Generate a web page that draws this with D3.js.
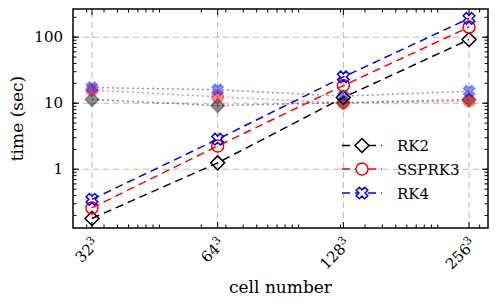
<!DOCTYPE html>
<html>
<head>
<meta charset="utf-8">
<script src="https://cdn.jsdelivr.net/npm/d3@7"></script>
<style>
  body { margin: 0; background: #fff; }
  text { font-family: "DejaVu Serif", serif; }
</style>
</head>
<body>
<div id="container"></div>
<script>
// data
var sides = [32, 64, 128, 256];
var cells = sides.map(d => d * d * d);

var seriesNames = ["RK2", "SSPRK3", "RK4"];
var seriesColors = ["#000000", "#ff0000", "#0000ff"];
var seriesMarkers = ["diamond", "circle", "cross"];

// dashed lines, open markers
var rk2 = [0.18, 1.25, 12.2, 92];
var ssprk3 = [0.26, 2.25, 18.5, 142];
var rk4 = [0.35, 2.85, 25, 192];

// dotted lines, faint filled markers
var rk2Dot = [11.4, 9.2, 10.2, 11.4];
var ssprk3Dot = [15.8, 12.5, 10.1, 10.8];
var rk4Dot = [17.3, 16.0, 12.8, 15.2];

var yTickValues = [1, 10, 100];

var width = 498;
var height = 307;
var margin = { top: 9, right: 10, bottom: 79, left: 73 };

var svg = d3
  .select("#container")
  .append("svg")
  .attr("width", width)
  .attr("height", height);

var pad = Math.pow(8, 0.151);
var x = d3
  .scaleLog()
  .domain([cells[0] / pad, cells[3] * pad])
  .range([margin.left, width - margin.right]);

var y = d3
  .scaleLog()
  .domain([0.129, 267])
  .range([height - margin.bottom, margin.top]);

var x0 = margin.left, x1 = width - margin.right;
var y0 = height - margin.bottom, y1 = margin.top;

// grid
svg.append("g")
  .selectAll("line")
  .data(cells)
  .enter()
  .append("line")
  .attr("x1", d => x(d)).attr("x2", d => x(d))
  .attr("y1", y0).attr("y2", y1)
  .attr("stroke", "#b8b8b8")
  .attr("stroke-width", 1)
  .attr("stroke-dasharray", "6,4");

svg.append("g")
  .selectAll("line")
  .data(yTickValues)
  .enter()
  .append("line")
  .attr("y1", d => y(d)).attr("y2", d => y(d))
  .attr("x1", x0).attr("x2", x1)
  .attr("stroke", "#b8b8b8")
  .attr("stroke-width", 1)
  .attr("stroke-dasharray", "6,4");

// ticks, inward on all sides
var ticks = svg.append("g").attr("stroke", "#000").attr("stroke-width", 1);
var xMinor = x.ticks();
var yMinor = y.ticks();

xMinor.forEach(function(d) {
  ticks.append("line").attr("x1", x(d)).attr("x2", x(d)).attr("y1", y0).attr("y2", y0 - 3.5);
  ticks.append("line").attr("x1", x(d)).attr("x2", x(d)).attr("y1", y1).attr("y2", y1 + 3.5);
});
cells.forEach(function(d) {
  ticks.append("line").attr("x1", x(d)).attr("x2", x(d)).attr("y1", y0).attr("y2", y0 - 6);
  ticks.append("line").attr("x1", x(d)).attr("x2", x(d)).attr("y1", y1).attr("y2", y1 + 6);
});
yMinor.forEach(function(d) {
  ticks.append("line").attr("y1", y(d)).attr("y2", y(d)).attr("x1", x0).attr("x2", x0 + 3.5);
  ticks.append("line").attr("y1", y(d)).attr("y2", y(d)).attr("x1", x1).attr("x2", x1 - 3.5);
});
yTickValues.forEach(function(d) {
  ticks.append("line").attr("y1", y(d)).attr("y2", y(d)).attr("x1", x0).attr("x2", x0 + 6);
  ticks.append("line").attr("y1", y(d)).attr("y2", y(d)).attr("x1", x1).attr("x2", x1 - 6);
});

// marker shapes
function markerPath(type) {
  if (type === "diamond") {
    var r = 7;
    return "M0," + (-r) + "L" + r + ",0L0," + r + "L" + (-r) + ",0Z";
  }
  if (type === "circle") {
    var c = 6;
    return "M" + c + ",0A" + c + "," + c + " 0 1,1 " + (-c) + ",0A" + c + "," + c + " 0 1,1 " + c + ",0Z";
  }
  var r2 = 6, h = 2.2;
  var pts = [[-h,-r2],[h,-r2],[h,-h],[r2,-h],[r2,h],[h,h],[h,r2],[-h,r2],[-h,h],[-r2,h],[-r2,-h],[-h,-h]];
  var a = Math.PI / 4;
  pts = pts.map(p => [p[0] * Math.cos(a) - p[1] * Math.sin(a), p[0] * Math.sin(a) + p[1] * Math.cos(a)]);
  return "M" + pts.map(p => p[0].toFixed(2) + "," + p[1].toFixed(2)).join("L") + "Z";
}

var line = d3.line().x((d, i) => x(cells[i])).y(d => y(d));

var plot = svg.append("g");

// dotted faint series
[rk2Dot, ssprk3Dot, rk4Dot].forEach(function(vals, k) {
  var col = seriesColors[k];
  plot.append("path")
    .attr("d", line(vals))
    .attr("fill", "none")
    .attr("stroke", col)
    .attr("stroke-opacity", 0.45)
    .attr("stroke-width", 1.5)
    .attr("stroke-dasharray", "2,3");
  plot.selectAll(null)
    .data(vals)
    .enter()
    .append("path")
    .attr("transform", (d, i) => "translate(" + x(cells[i]) + "," + y(d) + ")")
    .attr("d", markerPath(seriesMarkers[k]))
    .attr("fill", col)
    .attr("fill-opacity", 0.45)
    .attr("stroke", col)
    .attr("stroke-opacity", 0.3)
    .attr("stroke-width", 1.5);
});

// dashed series
[rk2, ssprk3, rk4].forEach(function(vals, k) {
  var col = seriesColors[k];
  plot.append("path")
    .attr("d", line(vals))
    .attr("fill", "none")
    .attr("stroke", col)
    .attr("stroke-width", 1.5)
    .attr("stroke-dasharray", "8,5");
  plot.selectAll(null)
    .data(vals)
    .enter()
    .append("path")
    .attr("transform", (d, i) => "translate(" + x(cells[i]) + "," + y(d) + ")")
    .attr("d", markerPath(seriesMarkers[k]))
    .attr("fill", "none")
    .attr("stroke", col)
    .attr("stroke-width", 1.5);
});

// frame
svg.append("rect")
  .attr("x", x0).attr("y", y1)
  .attr("width", x1 - x0).attr("height", y0 - y1)
  .attr("fill", "none")
  .attr("stroke", "#000")
  .attr("stroke-width", 1.5);

// y tick labels
svg.append("g")
  .selectAll("text")
  .data(yTickValues)
  .enter()
  .append("text")
  .attr("x", x0 - 10)
  .attr("y", d => y(d) + 5)
  .attr("text-anchor", "end")
  .style("font-size", "15px")
  .text(d => d);

// x tick labels, rotated
var xl = svg.append("g")
  .selectAll("text")
  .data(sides)
  .enter()
  .append("text")
  .attr("text-anchor", "end")
  .attr("transform", d => "translate(" + (x(d * d * d) + 8) + "," + (y0 + 17) + ") rotate(-45)")
  .style("font-size", "15px");
xl.append("tspan").text(d => d);
xl.append("tspan").attr("dy", -6).style("font-size", "11px").text("3");

// axis titles
svg.append("text")
  .attr("x", (x0 + x1) / 2)
  .attr("y", 293)
  .attr("text-anchor", "middle")
  .style("font-size", "17px")
  .text("cell number");

svg.append("text")
  .attr("transform", "translate(23," + ((y0 + y1) / 2) + ") rotate(-90)")
  .attr("text-anchor", "middle")
  .style("font-size", "17px")
  .text("time (sec)");

// legend
var legend = svg.append("g");
var legendY = [145.5, 169, 193];
seriesNames.forEach(function(name, k) {
  var ly = legendY[k];
  var col = seriesColors[k];
  legend.append("line")
    .attr("x1", 342).attr("x2", 382)
    .attr("y1", ly).attr("y2", ly)
    .attr("stroke", col)
    .attr("stroke-width", 1.5)
    .attr("stroke-dasharray", "8,5");
  legend.append("path")
    .attr("transform", "translate(362," + ly + ")")
    .attr("d", markerPath(seriesMarkers[k]))
    .attr("fill", "#fff")
    .attr("stroke", col)
    .attr("stroke-width", 1.5);
  legend.append("text")
    .attr("x", 397)
    .attr("y", ly + 5.5)
    .style("font-size", "15px")
    .text(name);
});
</script>
</body>
</html>
